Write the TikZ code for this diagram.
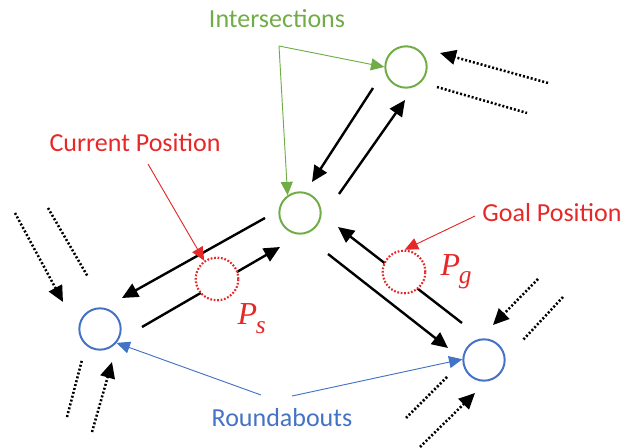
\documentclass[tikz,border=0pt]{standalone}
\usepackage{fontspec}
\setmainfont{Carlito}
\newfontfamily\symfont{Liberation Serif}
\usetikzlibrary{arrows.meta}
\definecolor{igreen}{RGB}{112,173,71}
\definecolor{rblue}{RGB}{68,114,196}
\definecolor{pred}{RGB}{230,40,40}
\newcommand{\possym}[1]{{\symfont\itshape\fontsize{24}{26}\selectfont P\kern-1pt\raisebox{-6pt}{\fontsize{19}{20}\selectfont #1}}}
\tikzset{
  junc/.style={circle,draw,line width=1.5pt,minimum size=31pt,inner sep=0pt},
  posn/.style={circle,draw=pred,fill=white,line width=1.6pt,dash pattern=on 1.3pt off 1.3pt,minimum size=32pt,inner sep=0pt},
  lane/.style={line width=1.8pt,-{Triangle[length=12pt,width=11pt]}},
  feed/.style={line width=1.9pt,dash pattern=on 1.5pt off 1.5pt},
  feedin/.style={feed,-{Triangle[length=12pt,width=11pt]}},
  hint/.style={line width=0.7pt,draw=#1,-{Triangle[length=10pt,width=9pt,fill=#1]}},
  lbl/.style={font=\fontsize{19.5}{22}\selectfont,text=#1}
}
\begin{document}
\begin{tikzpicture}[x=0.75pt,y=-0.75pt]
\useasboundingbox (0,0) rectangle (623,448);
% junctions
\node[junc,draw=igreen] (int1) at (406,67) {};
\node[junc,draw=igreen] (int2) at (300,213) {};
\node[junc,draw=rblue] (rb1) at (100,329) {};
\node[junc,draw=rblue] (rb2) at (484,360) {};
% lane ends
\coordinate (a1) at (373,88);  \coordinate (a2) at (312,182);
\coordinate (b1) at (339,194); \coordinate (b2) at (405,100);
\coordinate (c1) at (265,218); \coordinate (c2) at (122,298);
\coordinate (d1) at (142,327); \coordinate (d2) at (280,247);
\coordinate (e1) at (328,254); \coordinate (e2) at (448,348);
\coordinate (f1) at (462,323); \coordinate (f2) at (338,227);
\draw[lane] (a1) -- (a2);
\draw[lane] (b1) -- (b2);
\draw[lane] (c1) -- (c2);
\draw[lane] (d1) -- (d2);
\draw[lane] (e1) -- (e2);
\draw[lane] (f1) -- (f2);
% start and goal
\node[posn] (ps) at (217,279) {};
\node[posn] (pg) at (404,272) {};
\node[lbl=pred,anchor=base west] at (233,325) {\possym{s}};
\node[lbl=pred,anchor=base west] at (436,276) {\possym{g}};
% incoming and outgoing roads
\coordinate (g1) at (548,83);  \coordinate (g2) at (440,53);
\coordinate (g3) at (437,87);  \coordinate (g4) at (527,113);
\coordinate (h1) at (15,213);  \coordinate (h2) at (63,302);
\coordinate (h3) at (48,208);  \coordinate (h4) at (88,277);
\coordinate (k1) at (67,417);  \coordinate (k2) at (82,360);
\coordinate (k3) at (92,432);  \coordinate (k4) at (112,362);
\coordinate (m1) at (538,279); \coordinate (m2) at (493,325);
\coordinate (m3) at (563,297); \coordinate (m4) at (523,340);
\coordinate (n1) at (447,377); \coordinate (n2) at (406,418);
\coordinate (n3) at (420,447); \coordinate (n4) at (475,393);
\draw[feedin] (g1) -- (g2);
\draw[feed] (g3) -- (g4);
\draw[feedin] (h1) -- (h2);
\draw[feed] (h3) -- (h4);
\draw[feed] (k1) -- (k2);
\draw[feedin] (k3) -- (k4);
\draw[feedin] (m1) -- (m2);
\draw[feed] (m3) -- (m4);
\draw[feed] (n1) -- (n2);
\draw[feedin] (n3) -- (n4);
% labels
\node[lbl=igreen] (inter) at (277,19) {Intersections};
\coordinate (gc) at (279,46);
\draw[hint=igreen] (gc) -- (int1.west);
\draw[hint=igreen] (gc) -- (int2.125);
\node[lbl=pred] (cur) at (135,143) {Current Position};
\coordinate (cc) at (148,164);
\draw[hint=pred] (cc) -- (ps.125);
\node[lbl=pred] (goal) at (552,213) {Goal Position};
\coordinate (gg) at (475,216);
\draw[hint=pred] (gg) -- (pg.88);
\node[lbl=rblue] (rnd) at (282,418) {Roundabouts};
\coordinate (r1) at (261,395);
\coordinate (r2) at (292,396);
\draw[hint=rblue] (r1) -- (rb1.-40);
\draw[hint=rblue] (r2) -- (rb2.178);
\end{tikzpicture}
\end{document}
